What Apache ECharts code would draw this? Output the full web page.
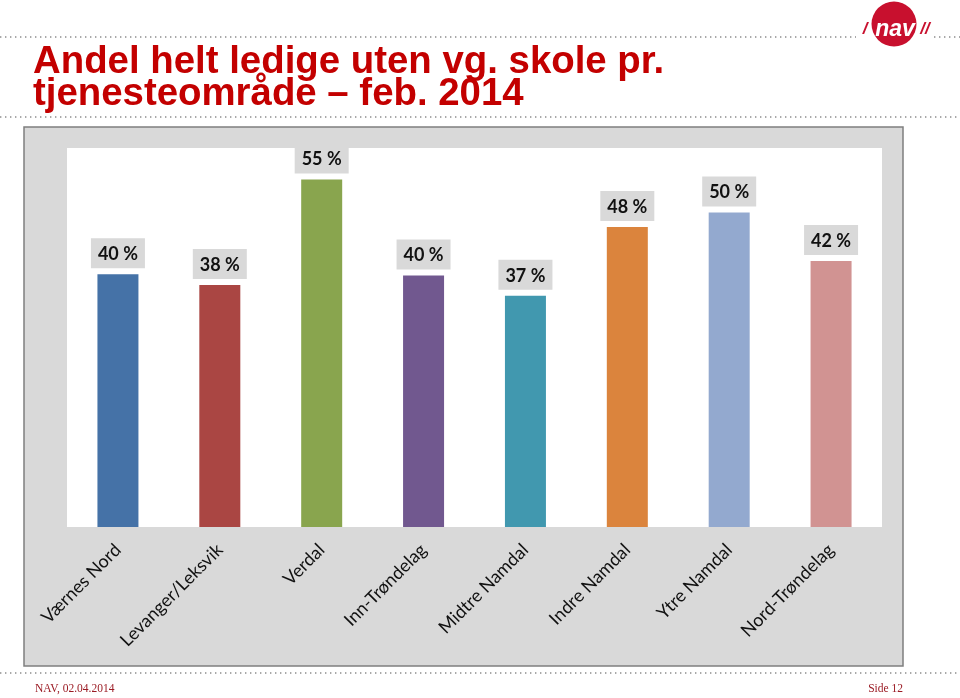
<!DOCTYPE html>
<html>
<head>
<meta charset="utf-8">
<script src="https://cdn.jsdelivr.net/npm/echarts@6/dist/echarts.min.js"></script>
<style>
  html, body { margin: 0; padding: 0; background: #fff; }
  #chart { width: 960px; height: 698px; }
</style>
</head>
<body>
<div id="chart"></div>
<script>
// data
const categories = ['Værnes Nord', 'Levanger/Leksvik', 'Verdal', 'Inn-Trøndelag', 'Midtre Namdal', 'Indre Namdal', 'Ytre Namdal', 'Nord-Trøndelag'];
const shares = [40.0, 38.3, 55.0, 39.8, 36.6, 47.5, 49.8, 42.1];
const barColors = ['#4572a7', '#aa4643', '#89a54e', '#71588f', '#4198af', '#db843d', '#93a9cf', '#d19392'];
const titleLines = ['Andel helt ledige uten vg. skole pr.', 'tjenesteområde – feb. 2014'];

const red = '#c30000';
const chart = echarts.init(document.getElementById('chart'));

function dots(y, x1, x2) {
  return {
    type: 'line', z: 5,
    shape: { x1: x1, y1: y, x2: x2, y2: y },
    style: { stroke: '#8c8c8c', lineWidth: 1.4, lineDash: [1.4, 3.6] }
  };
}

const option = {
  backgroundColor: '#fff',
  animation: false,
  grid: {
    left: 67, right: 78, top: 148, bottom: 171,
    show: true, backgroundColor: '#fff', borderWidth: 0
  },
  xAxis: {
    type: 'category',
    data: categories,
    axisLine: { show: false },
    axisTick: { show: false },
    axisLabel: {
      interval: 0,
      rotate: 45,
      margin: 20,
      color: '#111',
      fontFamily: 'Lato',
      fontSize: 18
    }
  },
  yAxis: {
    type: 'value',
    min: 0,
    max: 60,
    show: false,
    splitLine: { show: false }
  },
  series: [{
    type: 'bar',
    barWidth: 41,
    data: shares.map((v, i) => ({ value: v, itemStyle: { color: barColors[i] } })),
    label: {
      show: true,
      position: 'top',
      distance: 6,
      formatter: p => Math.round(p.value) + ' %',
      backgroundColor: '#d9d9d9',
      padding: [7, 7, 5, 7],
      color: '#111',
      fontFamily: 'Lato',
      fontWeight: 'bold',
      fontSize: 18
    }
  }],
  graphic: [
    {
      type: 'rect', z: -1,
      shape: { x: 24, y: 127, width: 879, height: 539 },
      style: { fill: '#d9d9d9', stroke: '#7f7f7f', lineWidth: 1.5 }
    },
    dots(37, 0, 856),
    dots(37, 934, 960),
    dots(117, 0, 960),
    dots(673, 0, 960),
    {
      type: 'text', x: 33, y: 44, scaleX: 1.01,
      style: { text: titleLines[0], fill: red, font: 'bold 38px "Liberation Sans", Arial, sans-serif' }
    },
    {
      type: 'text', x: 33, y: 76, scaleX: 1.01,
      style: { text: titleLines[1], fill: red, font: 'bold 38px "Liberation Sans", Arial, sans-serif' }
    },
    // NAV logo
    {
      type: 'circle', z: 6,
      shape: { cx: 894, cy: 24, r: 22.5 },
      style: { fill: '#c8102e' }
    },
    {
      type: 'text', z: 7, x: 895, y: 30,
      style: { text: 'nav', fill: '#fff', align: 'center', verticalAlign: 'middle', font: 'italic bold 23px "Liberation Sans", Arial, sans-serif' }
    },
    {
      type: 'text', z: 7, x: 865, y: 29,
      style: { text: '/', fill: '#c8102e', align: 'center', verticalAlign: 'middle', font: 'italic bold 17px "Liberation Sans", Arial, sans-serif' }
    },
    {
      type: 'text', z: 7, x: 925, y: 29,
      style: { text: '//', fill: '#c8102e', align: 'center', verticalAlign: 'middle', font: 'italic bold 17px "Liberation Sans", Arial, sans-serif' }
    },
    // footer
    {
      type: 'text', x: 35, y: 683,
      style: { text: 'NAV, 02.04.2014', fill: '#9b1b24', font: '11.5px "Liberation Serif", "Times New Roman", serif' }
    },
    {
      type: 'text', x: 903, y: 683,
      style: { text: 'Side 12', fill: '#9b1b24', align: 'right', font: '11.5px "Liberation Serif", "Times New Roman", serif' }
    }
  ]
};

chart.setOption(option);
</script>
</body>
</html>
